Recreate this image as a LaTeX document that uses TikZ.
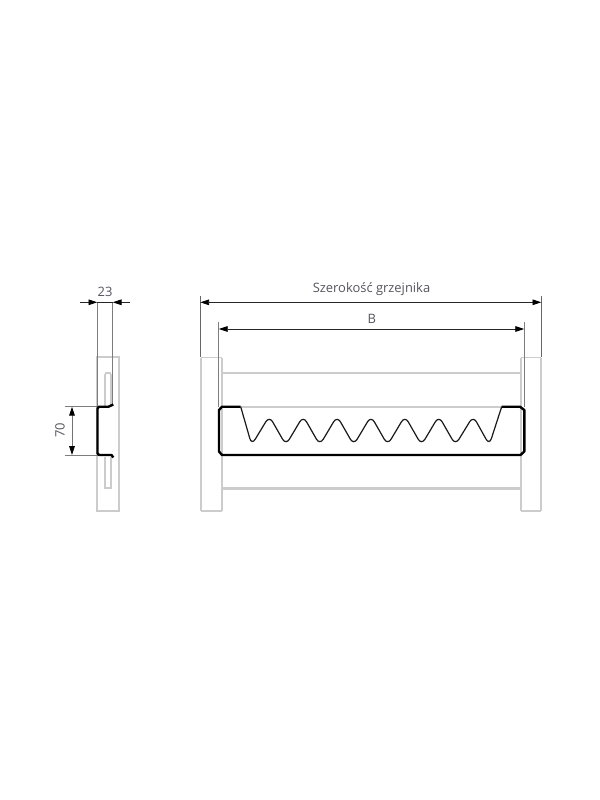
\documentclass[tikz,border=0pt]{standalone}
\usepackage{fontspec}
\setmainfont{Open Sans}[UprightFont=*]
\usetikzlibrary{arrows.meta}
\definecolor{rdGray}{RGB}{204,204,204}
\definecolor{rdDim}{RGB}{125,125,125}
\definecolor{rdText}{RGB}{85,85,95}
\tikzset{
  panel/.style={rdGray, line width=1.6pt},
  thinpanel/.style={rdGray, line width=0.6pt},
  extline/.style={rdDim, line width=0.75pt},
  dimline/.style={black!85, line width=0.6pt, {Triangle[length=6.6pt,width=4.2pt,black]}-{Triangle[length=6.6pt,width=4.2pt,black]}},
  dimtail/.style={black!85, line width=0.6pt, -{Triangle[length=6.6pt,width=4.2pt,black]}},
  profile/.style={black, line width=1.8pt, line join=round},
  wave/.style={black!90, line width=0.9pt, rounded corners=5pt},
  dimlabel/.style={rdText, font=\fontsize{9.7}{11}\selectfont, inner sep=0pt}
}
\begin{document}
\begin{tikzpicture}[x=0.75pt,y=-0.75pt]
  \useasboundingbox (0,0) rectangle (600,800);
  \fill[white] (0,0) rectangle (600,800);

  % Side view: panel and slot
  \draw[panel] (97.3,510.7) -- (97.3,357) -- (118.7,357) -- (118.7,510.7) -- cycle;
  \draw[panel, line width=1.3pt] (105,406) -- (105,375) -- ++(1,-2) -- (110,373) -- ++(1,2) -- (111,406);
  \draw[panel, line width=1.3pt] (105,457) -- (105,488) -- (111,488) -- (111,457);

  % Side view: extension lines
  \draw[extline] (97.3,302) -- (97.3,407);
  \draw[extline] (112.7,302) -- (112.7,405);
  \draw[extline] (65,406.7) -- (98,406.7);
  \draw[extline] (65,455) -- (98,455);

  % Side view: profile
  \draw[profile] (113.3,404.5) -- (108.5,406.7) -- (99,406.7) -- (97.5,408.5) -- (97.5,453.2) -- (99,455) -- (111.5,455) -- (113.3,457.5);

  % Side view: dimensions
  \coordinate (widthL) at (80,302.3);
  \coordinate (widthA) at (97.3,302.3);
  \coordinate (widthB) at (112.7,302.3);
  \coordinate (widthR) at (130,302.3);
  \draw[dimtail] (widthL) -- (widthA);
  \draw[dimtail] (widthR) -- (widthB);
  \draw[black!85, line width=0.6pt] (widthA) -- (widthB);
  \node[dimlabel] (widthText) at (105,292) {23};
  \coordinate (heightT) at (72,406.7);
  \coordinate (heightB) at (72,455);
  \draw[dimline, black!55] (heightT) -- (heightB);
  \node[dimlabel, rotate=90] (heightText) at (60,430.5) {70};

  % Front view: side panels and bars
  \draw[panel] (200.8,510.7) -- (200.8,357.5);
  \draw[panel] (221.6,510.7) -- (221.6,357.5);
  \draw[panel] (200.8,510.7) -- (221.6,510.7);
  \draw[thinpanel] (200.8,357.3) -- (221.6,357.3);
  \draw[panel] (520.8,510.7) -- (520.8,357.5);
  \draw[panel] (541,510.7) -- (541,357.5);
  \draw[panel] (520.8,510.7) -- (541,510.7);
  \draw[thinpanel] (520.8,357.3) -- (541,357.3);
  \draw[panel, line width=2.1pt] (221.6,373) -- (520.8,373);
  \draw[panel, line width=2.1pt] (221.6,488.7) -- (520.8,488.7);
  \draw[panel] (240,406.7) -- (502,406.7);

  % Front view: extension lines
  \draw[extline, black!60] (200.3,296) -- (200.3,357);
  \draw[extline, black!60] (541.3,296) -- (541.3,357);
  \draw[extline] (218.9,322) -- (218.9,407);
  \draw[extline] (524.1,322) -- (524.1,407);

  % Front view: dimensions
  \coordinate (outerL) at (200.3,302.3);
  \coordinate (outerR) at (541.3,302.3);
  \coordinate (innerL) at (218.9,329);
  \coordinate (innerR) at (524.1,329);
  \draw[dimline] (outerL) -- (outerR);
  \draw[dimline] (innerL) -- (innerR);
  \node[dimlabel] (outerText) at (371.5,289) {Szerokość grzejnika};
  \node[dimlabel] (innerText) at (371.7,319) {B};

  % Front view: outline and wave
  \draw[profile] (240.7,406.7) -- (222,406.7) -- (219,410) -- (219,451.5) -- (222,455)
    -- (520.5,455) -- (524.3,451.5) -- (524.3,410) -- (520,406.7) -- (501.7,406.7);
  \draw[wave] (240.7,406.7) -- (251.7,445)
    -- (269.3,416) -- (285.9,445) -- (303.2,416) -- (319.8,445)
    -- (337.1,416) -- (353.7,445) -- (371,416) -- (387.6,445)
    -- (404.9,416) -- (421.5,445) -- (438.8,416) -- (455.4,445)
    -- (473.2,416) -- (489.3,445) -- (501.7,406.7);
\end{tikzpicture}
\end{document}
